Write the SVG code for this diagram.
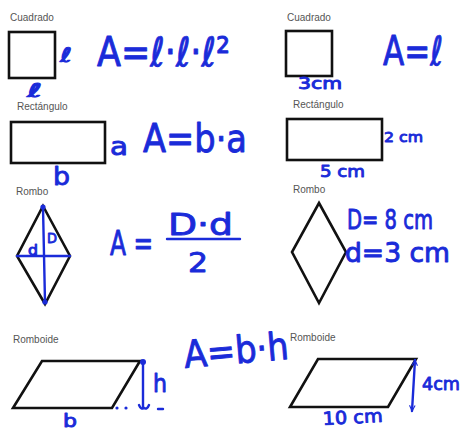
<svg xmlns="http://www.w3.org/2000/svg" width="462" height="433" viewBox="0 0 462 433">
<style>
.lbl{font-family:"Liberation Sans",Arial,sans-serif;font-size:10px;fill:#555}
.shape{fill:#fff;stroke:#111;stroke-width:2.6;stroke-linejoin:miter}
.hw{font-family:"DejaVu Sans","Liberation Sans",sans-serif;fill:#1a2bd9;stroke:#1a2bd9;stroke-width:0.9;stroke-linejoin:round}
.bl{stroke:#1a2bd9;stroke-width:2.4;fill:none;stroke-linecap:round}
.dot{fill:#1a2bd9}
</style>
<defs>
<marker id="ah" viewBox="0 0 10 10" refX="9" refY="5" markerWidth="7" markerHeight="7" orient="auto-start-reverse" markerUnits="userSpaceOnUse">
<path d="M1,1 L9,5 L1,9" fill="none" stroke="#1a2bd9" stroke-width="1.6"/>
</marker>
</defs>
<rect width="462" height="433" fill="#fff"/>

<g id="cuadrado1">
<text class="lbl" x="10" y="21">Cuadrado</text>
<rect class="shape" x="9" y="32" width="46" height="46"/>
<text class="hw" x="60" y="62" font-size="20" textLength="12" lengthAdjust="spacingAndGlyphs">ℓ</text>
<text class="hw" x="27" y="97" font-size="19" textLength="15" lengthAdjust="spacingAndGlyphs">ℓ</text>
<text class="hw" x="97" y="66" font-size="40" textLength="133" lengthAdjust="spacingAndGlyphs">A=ℓ·ℓ·ℓ²</text>
</g>

<g id="cuadrado2">
<text class="lbl" x="287" y="21">Cuadrado</text>
<rect class="shape" x="286" y="31" width="46" height="45"/>
<text class="hw" x="298" y="89" font-size="15" textLength="44" lengthAdjust="spacingAndGlyphs">3cm</text>
<text class="hw" x="383" y="65" font-size="40" textLength="60" lengthAdjust="spacingAndGlyphs">A=ℓ</text>
</g>

<g id="rectangulo1">
<text class="lbl" x="17" y="110">Rectángulo</text>
<rect class="shape" x="11" y="122" width="94" height="41"/>
<text class="hw" x="110" y="155" font-size="24" textLength="18" lengthAdjust="spacingAndGlyphs">a</text>
<text class="hw" x="53" y="185" font-size="25" textLength="17" lengthAdjust="spacingAndGlyphs">b</text>
<text class="hw" x="143" y="152" font-size="39" textLength="104" lengthAdjust="spacingAndGlyphs">A=b·a</text>
</g>

<g id="rectangulo2">
<text class="lbl" x="293" y="108">Rectángulo</text>
<rect class="shape" x="287" y="119" width="95" height="41"/>
<text class="hw" x="384" y="142" font-size="14" textLength="39" lengthAdjust="spacingAndGlyphs">2 cm</text>
<text class="hw" x="320" y="177" font-size="16" textLength="45" lengthAdjust="spacingAndGlyphs">5 cm</text>
</g>

<g id="rombo1">
<text class="lbl" x="16" y="195">Rombo</text>
<polygon class="shape" points="43,206 70,256 45,304 17,256"/>
<text class="hw" x="47" y="243" font-size="14" textLength="10" lengthAdjust="spacingAndGlyphs">D</text>
<text class="hw" x="28" y="255" font-size="14" textLength="10" lengthAdjust="spacingAndGlyphs">d</text>
<text class="hw" x="110" y="255" font-size="34" textLength="43" lengthAdjust="spacingAndGlyphs">A =</text>
<text class="hw" x="168" y="235" font-size="30" textLength="65" lengthAdjust="spacingAndGlyphs">D·d</text>
<line class="bl" x1="167" y1="239" x2="240" y2="239" stroke-width="3"/>
<text class="hw" x="188" y="272" font-size="27" textLength="20" lengthAdjust="spacingAndGlyphs">2</text>
</g>

<g id="rombo2">
<text class="lbl" x="293" y="193">Rombo</text>
<polygon class="shape" points="319,203 346,252 319,303 292,252"/>
<text class="hw" x="347" y="229" font-size="26" textLength="86" lengthAdjust="spacingAndGlyphs">D= 8 cm</text>
<text class="hw" x="345" y="262" font-size="26" textLength="105" lengthAdjust="spacingAndGlyphs">d=3 cm</text>
</g>

<g id="romboide1">
<text class="lbl" x="13" y="343">Romboide</text>
<polygon class="shape" points="42,361 140,361 112,408 13,408"/>
<text class="hw" x="153" y="392" font-size="25" textLength="14" lengthAdjust="spacingAndGlyphs">h</text>
<text class="hw" x="63" y="427" font-size="18" textLength="14" lengthAdjust="spacingAndGlyphs">b</text>
<text class="hw" x="185" y="368" font-size="38" textLength="105" lengthAdjust="spacingAndGlyphs" transform="rotate(-5 185 368)">A=b·h</text>
</g>

<g id="romboide2">
<text class="lbl" x="290" y="341">Romboide</text>
<polygon class="shape" points="318,359 416,359 388,407 290,407"/>
<text class="hw" x="422" y="390" font-size="18" textLength="38" lengthAdjust="spacingAndGlyphs">4cm</text>
<text class="hw" x="323" y="425" font-size="18" textLength="60" lengthAdjust="spacingAndGlyphs" transform="rotate(-3 323 425)">10 cm</text>
</g>

<g id="connectors">
<line class="bl" x1="43" y1="207" x2="45" y2="302"/>
<line class="bl" x1="17" y1="256" x2="70" y2="256"/>
<circle class="dot" cx="43" cy="207" r="2.6"/>
<circle class="dot" cx="45" cy="302" r="2.6"/>
<line class="bl" x1="143" y1="362" x2="143" y2="408"/>
<circle class="dot" cx="143" cy="362" r="3"/>
<circle class="dot" cx="117" cy="408" r="1.6"/>
<circle class="dot" cx="126" cy="408" r="1.6"/>
<path class="bl" d="M139,405 Q141,410 144,408 Q147,410 149,405"/>
<line class="bl" x1="158" y1="409" x2="163" y2="409"/>
<line class="bl" x1="415" y1="360" x2="412" y2="411" marker-start="url(#ah)" marker-end="url(#ah)"/>
</g>
</svg>
